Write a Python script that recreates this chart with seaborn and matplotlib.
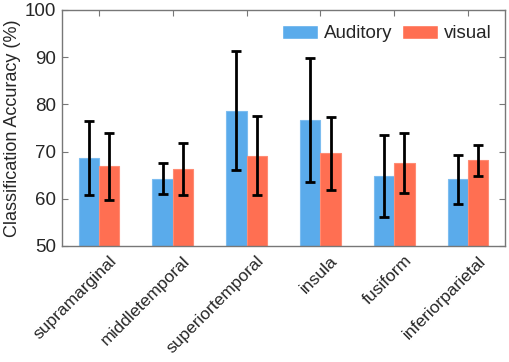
import numpy as np
import pandas as pd
import matplotlib
matplotlib.use('Agg')
import matplotlib.pyplot as plt
import matplotlib.transforms as mtrans
import seaborn as sns

## Data
regions    = ['supramarginal','middletemporal','superiortemporal','insula','fusiform','inferiorparietal']
conditions = ['Auditory','visual']
auditory     = [68.6, 64.3, 78.7, 76.7, 64.8, 64.1]
auditory_err = [7.8, 3.2, 12.7, 13.2, 8.7, 5.1]
visual       = [66.9, 66.3, 69.1, 69.6, 67.6, 68.2]
visual_err   = [7.1, 5.5, 8.4, 7.8, 6.4, 3.3]
colors       = ['#5AABEB','#FF6F52']
edges        = ['#7DBDF0','#FF8C74']

df = pd.DataFrame({
    'region': regions*2,
    'condition': [conditions[0]]*6 + [conditions[1]]*6,
    'acc': auditory + visual,
})

sns.set_style('white')
plt.rcParams['font.family'] = ['Liberation Sans','DejaVu Sans']

fig = plt.figure(figsize=(5.1,3.62), dpi=100)
ax = fig.add_axes([62/510, 1-246/362, 443/510, 236/362])

sns.barplot(data=df, x='region', y='acc', hue='condition', order=regions,
            hue_order=conditions, palette=colors, width=0.55, gap=0,
            errorbar=None, saturation=1, ax=ax)

## Error bars on top of each bar
errs = [auditory_err, visual_err]
bar_conts = list(ax.containers)
for k, cont in enumerate(bar_conts):
    xs = [p.get_x()+p.get_width()/2 for p in cont.patches]
    ys = [p.get_height() for p in cont.patches]
    for p in cont.patches:
        p.set_edgecolor(edges[k])
        p.set_linewidth(0.8)
    ax.errorbar(xs, ys, yerr=errs[k], fmt='none', ecolor='k', elinewidth=2.0,
                capsize=3.6, capthick=2.0, zorder=5)

## Axes customization
ax.set_ylim(50,100)
ax.set_xlim(-0.5,5.5)
ax.set_yticks([50,60,70,80,90,100])
ax.set_xlabel('')
ax.set_ylabel('Classification Accuracy (%)', fontsize=13, labelpad=3)
ax.tick_params(axis='y', labelsize=13.5, direction='in', length=4, color='#777777',
               right=True, left=True, pad=4)
ax.tick_params(axis='x', labelsize=12.5, direction='in', length=4, color='#777777',
               top=True, bottom=False, pad=3)
offset = mtrans.ScaledTranslation(7/72, -2/72, fig.dpi_scale_trans)
for lab in ax.get_xticklabels():
    lab.set_rotation(45)
    lab.set_ha('right')
    lab.set_rotation_mode('anchor')
    lab.set_transform(lab.get_transform() + offset)
for s in ax.spines.values():
    s.set_color('#777777')
    s.set_linewidth(1.0)

ax.legend(loc='upper right', bbox_to_anchor=(0.995,0.985), ncol=2, frameon=False,
          fontsize=13.5, handlelength=1.95, handleheight=0.8, handletextpad=0.3,
          columnspacing=0.5, borderaxespad=0.2)

fig.savefig('out.png', dpi=100)
